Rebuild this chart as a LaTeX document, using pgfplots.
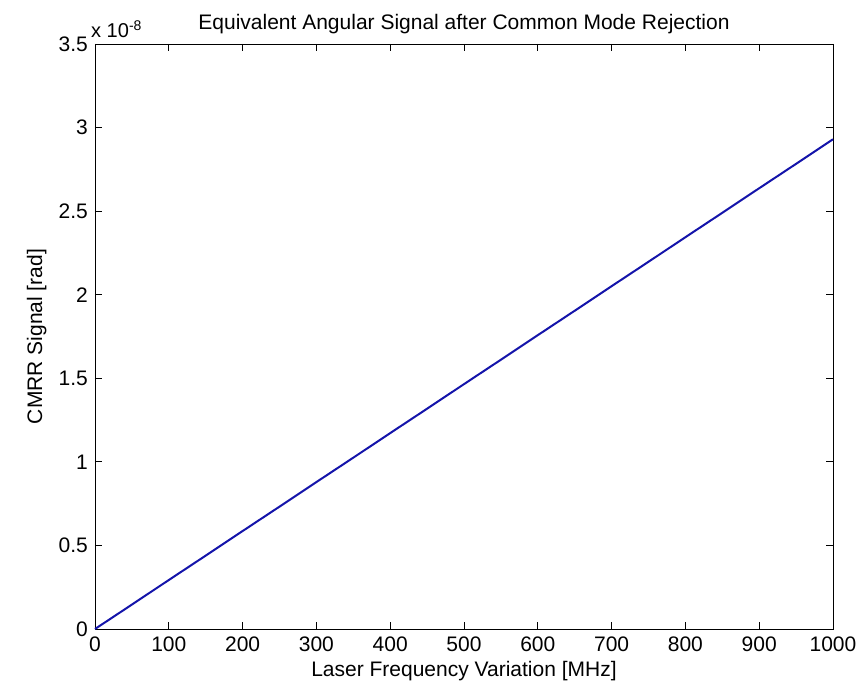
\documentclass[border=0pt]{standalone}
\usepackage{pgfplots}
\pgfplotsset{compat=1.18}
\usepackage{fontspec}
\setmainfont{Liberation Sans}
\definecolor{mblue}{RGB}{20,20,170}
\begin{document}
\fontsize{21}{25}\selectfont
\begin{tikzpicture}
\begin{axis}[
  name=ax,
  scale only axis,
  width=738pt, height=585pt,
  xmin=0, xmax=1000, ymin=0, ymax=3.5,
  xtick={0,100,...,1000},
  ytick={0,0.5,...,3.5},
  xticklabels={0,100,200,300,400,500,600,700,800,900,1000},
  yticklabels={0,0.5,1,1.5,2,2.5,3,3.5},
  tick align=inside,
  major tick length=7pt,
  axis line style={line width=0.9pt},
  every tick/.style={black, line width=0.9pt},
  /pgf/number format/assume math mode=true,
  ticklabel style={font=\fontsize{21}{25}\selectfont},
  label style={font=\fontsize{21}{25}\selectfont},
  title style={font=\fontsize{21}{25}\selectfont, yshift=-3pt},
  title={Equivalent Angular Signal after Common Mode Rejection},
  xlabel={Laser Frequency Variation [MHz]},
  ylabel={CMRR Signal [rad]},
  xlabel style={yshift=5pt},
  ylabel style={yshift=-2pt},
  xticklabel style={yshift=-1pt},
  clip=false,
]
\addplot[mblue, line width=2pt] coordinates {
(0,0) (50,0.146) (100,0.293) (150,0.439) (200,0.586) (250,0.732) (300,0.879)
(350,1.025) (400,1.172) (450,1.318) (500,1.465) (550,1.611) (600,1.758)
(650,1.904) (700,2.051) (750,2.197) (800,2.344) (850,2.490) (900,2.637)
(950,2.783) (1000,2.93)};
\node[anchor=south west, inner sep=0pt, font=\fontsize{20}{24}\selectfont] at ([xshift=-4pt,yshift=6pt]rel axis cs:0,1) {x 10\textsuperscript{-8}};
\end{axis}
\pgfresetboundingbox
\path[use as bounding box] ([xshift=-95pt,yshift=-62pt]ax.south west) rectangle ([xshift=32pt,yshift=44pt]ax.north east);
\end{tikzpicture}
\end{document}
